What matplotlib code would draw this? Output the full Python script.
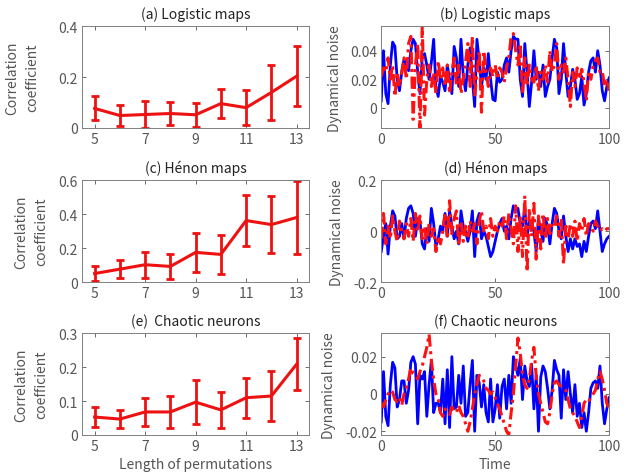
import matplotlib.pyplot as plt
from matplotlib.ticker import FormatStrFormatter

plt.rcParams['font.family'] = ['Noto Sans CJK JP', 'DejaVu Sans']
plt.rcParams['font.size'] = 9

# length of permutations
lengths = [5, 6, 7, 8, 9, 10, 11, 12, 13]

# correlation coefficients (mean and error) for each system
logistic_corr = [0.077, 0.049, 0.053, 0.057, 0.052, 0.096, 0.080, 0.140, 0.204]
logistic_err = [0.047, 0.040, 0.053, 0.047, 0.048, 0.058, 0.070, 0.107, 0.118]
henon_corr = [0.050, 0.076, 0.102, 0.092, 0.175, 0.163, 0.363, 0.339, 0.381]
henon_err = [0.046, 0.055, 0.078, 0.076, 0.115, 0.117, 0.150, 0.170, 0.215]
neuron_corr = [0.053, 0.047, 0.068, 0.068, 0.097, 0.074, 0.110, 0.115, 0.209]
neuron_err = [0.029, 0.027, 0.042, 0.046, 0.066, 0.052, 0.059, 0.075, 0.076]

# time axis for the noise plots
time = list(range(101))

# dynamical noise: true (blue) and estimated (red)
logistic_true = [
    0.005, 0.040, 0.010, 0.003, 0.030, 0.046, 0.043, 0.020, 0.012, 0.025,
    0.034, 0.030, 0.026, 0.040, 0.048, 0.045, 0.025, 0.010, 0.035, 0.038,
    0.030, 0.020, 0.032, 0.048, 0.015, 0.008, 0.022, 0.018, 0.012, 0.030,
    0.020, 0.010, 0.043, 0.035, 0.015, 0.048, 0.022, 0.012, 0.030, 0.042,
    0.020, 0.001, 0.048, 0.033, 0.015, 0.028, 0.020, 0.038, 0.020, 0.006,
    0.005, 0.025, 0.018, 0.020, 0.030, 0.035, 0.025, 0.040, 0.050, 0.048,
    0.048, 0.020, 0.008, 0.045, 0.025, 0.001, 0.018, 0.040, 0.020, 0.025,
    0.015, 0.030, 0.008, 0.015, 0.020, 0.035, 0.048, 0.042, 0.010, 0.020,
    0.045, 0.025, 0.008, 0.015, 0.027, 0.020, 0.006, 0.010, 0.022, 0.002,
    0.010, 0.025, 0.033, 0.035, 0.025, 0.040, 0.030, 0.012, 0.005, 0.015,
    0.021]
logistic_est = [
    0.022, 0.028, 0.025, 0.035, 0.020, 0.030, 0.008, 0.025, 0.015, 0.025,
    0.035, 0.020, 0.045, 0.050, -0.008, 0.030, 0.045, -0.014, 0.057, -0.005,
    0.020, 0.030, 0.015, 0.025, 0.010, 0.033, 0.020, 0.028, 0.015, 0.030,
    0.010, 0.025, 0.035, 0.015, 0.030, 0.010, 0.020, 0.032, 0.045, 0.015,
    0.050, 0.008, 0.025, 0.040, -0.003, 0.040, 0.025, 0.015, 0.028, 0.022,
    0.030, 0.020, 0.028, 0.025, 0.018, 0.028, 0.035, 0.050, 0.052, 0.040,
    0.030, 0.045, 0.010, 0.035, 0.015, 0.030, 0.020, 0.018, 0.030, 0.012,
    0.025, 0.020, 0.030, 0.018, 0.040, 0.025, 0.030, 0.045, 0.020, 0.030,
    0.025, 0.035, 0.020, 0.001, 0.025, 0.015, 0.028, 0.020, 0.027, 0.018,
    0.005, 0.026, 0.020, 0.030, 0.033, 0.035, 0.025, 0.026, 0.015, 0.020,
    0.012]
henon_true = [
    -0.08, -0.02, 0.03, -0.09, 0.02, 0.08, 0.06, -0.03, -0.02, 0.03,
    -0.03, 0.05, 0.09, 0.10, 0.07, -0.02, 0.05, 0.04, -0.05, -0.07,
    0.01, -0.04, 0.09, 0.03, -0.06, -0.03, 0.02, 0.00, 0.07, -0.02,
    0.08, 0.02, -0.03, 0.00, -0.05, 0.08, 0.02, 0.00, -0.04, 0.00,
    0.08, -0.10, 0.04, 0.07, -0.03, 0.00, -0.02, -0.06, -0.10, -0.08,
    -0.04, 0.00, 0.03, 0.05, 0.00, 0.02, -0.03, 0.05, 0.10, 0.08,
    0.09, 0.03, 0.02, 0.09, -0.02, 0.04, 0.03, 0.00, -0.08, 0.05,
    0.00, -0.04, 0.05, 0.02, -0.05, 0.03, 0.09, 0.07, 0.00, -0.03,
    0.06, -0.02, -0.08, -0.03, -0.07, -0.03, -0.06, -0.05, -0.10, -0.04,
    -0.08, -0.02, 0.03, 0.04, 0.01, 0.08, 0.00, -0.08, -0.05, -0.03,
    -0.02]
henon_est = [
    -0.03, 0.07, -0.05, 0.02, -0.03, 0.06, 0.00, -0.04, 0.04, 0.00,
    -0.03, 0.03, -0.02, 0.05, -0.04, 0.07, 0.00, 0.06, -0.03, 0.02,
    -0.05, 0.03, -0.02, 0.01, -0.08, -0.02, -0.05, 0.00, 0.07, -0.03,
    0.12, -0.01, 0.05, 0.08, -0.06, 0.04, -0.04, 0.02, -0.03, 0.04,
    0.00, 0.03, -0.05, 0.04, 0.08, 0.00, 0.02, -0.03, 0.05, -0.02,
    0.02, 0.00, 0.04, 0.02, 0.06, -0.03, 0.07, 0.01, -0.05, 0.10,
    -0.08, 0.06, -0.10, 0.14, -0.16, 0.09, -0.02, 0.11, -0.11, 0.06,
    -0.07, 0.07, -0.03, 0.05, -0.01, 0.03, 0.02, 0.06, -0.02, 0.05,
    -0.13, 0.02, -0.03, 0.03, -0.02, 0.04, -0.04, 0.03, 0.00, 0.05,
    -0.02, 0.03, 0.02, 0.00, 0.04, 0.02, 0.00, 0.01, 0.00, 0.01,
    0.01]
neuron_true = [
    -0.015, 0.012, -0.012, -0.017, 0.005, 0.017, 0.014, -0.007, -0.003, 0.007,
    0.007, -0.005, 0.002, 0.017, 0.020, 0.016, -0.016, 0.010, 0.008, 0.012,
    -0.012, 0.005, 0.018, -0.010, -0.005, -0.005, -0.010, 0.008, -0.016, 0.013,
    -0.018, 0.020, -0.008, -0.007, 0.010, -0.005, 0.015, -0.012, -0.010, 0.005,
    0.018, -0.020, 0.010, 0.006, -0.007, 0.005, -0.010, -0.015, 0.008, -0.015,
    -0.008, 0.005, -0.013, 0.004, 0.008, -0.008, 0.010, -0.005, 0.020, 0.015,
    0.010, 0.019, -0.003, 0.015, 0.007, 0.004, 0.016, -0.008, 0.010, -0.020,
    0.009, 0.015, 0.012, 0.003, -0.008, 0.002, 0.018, 0.013, 0.010, -0.013,
    0.013, -0.003, 0.012, 0.000, -0.010, 0.005, -0.012, -0.005, -0.018, -0.010,
    -0.020, -0.010, 0.003, 0.006, 0.007, 0.003, 0.015, -0.005, -0.016, -0.008,
    -0.002]
neuron_est = [
    -0.005, -0.007, -0.003, 0.000, 0.002, 0.001, -0.003, -0.004, -0.002, -0.006,
    0.000, 0.003, 0.008, 0.014, 0.011, 0.010, 0.008, 0.012, 0.015, 0.020,
    0.025, 0.032, 0.018, 0.008, 0.000, -0.003, -0.010, -0.012, -0.008, -0.010,
    -0.011, -0.007, -0.009, -0.010, -0.006, -0.010, -0.012, -0.016, -0.020, -0.015,
    -0.008, 0.000, 0.005, 0.010, 0.009, 0.007, 0.003, 0.002, 0.000, 0.001,
    -0.002, -0.005, -0.008, -0.012, -0.016, -0.020, -0.022, -0.010, 0.000, 0.015,
    0.030, 0.022, 0.010, 0.005, 0.003, 0.008, 0.018, 0.025, 0.010, 0.000,
    -0.005, -0.010, -0.015, -0.016, -0.010, 0.000, 0.006, 0.007, 0.005, 0.004,
    0.003, 0.002, -0.003, -0.008, -0.010, -0.012, -0.015, -0.018, -0.012, -0.005,
    -0.003, -0.004, -0.002, 0.000, 0.002, 0.008, 0.012, 0.008, 0.002, -0.005,
    -0.008]

grey = '#555555'
fig = plt.figure(figsize=(6.26, 4.77), dpi=100)

lefts = [0.131, 0.609]
bottoms = [0.7296, 0.4067, 0.086]
w, h = 0.363, 0.213


def style(ax):
    ax.tick_params(direction='in', top=True, right=True, colors=grey,
                   length=3, width=0.6, labelsize=10, pad=3)
    for s in ax.spines.values():
        s.set_color('#808080')
        s.set_linewidth(0.7)


# left column: correlation vs length of permutations
left_data = [
    ('(a) Logistic maps', logistic_corr, logistic_err, 0.4, [0, 0.2, 0.4], -0.19),
    ('(c) Hénon maps', henon_corr, henon_err, 0.6, [0, 0.2, 0.4, 0.6], -0.15),
    ('(e)  Chaotic neurons', neuron_corr, neuron_err, 0.3, [0, 0.1, 0.2, 0.3], -0.15),
]
for i, (title, m, e, top, yt, lx) in enumerate(left_data):
    ax = fig.add_axes([lefts[0], bottoms[i], w, h])
    ax.errorbar(lengths, m, yerr=e, color='#ee1111', lw=2.2, capsize=3,
                capthick=2, elinewidth=2)
    ax.set_xlim(4.5, 13.5)
    ax.set_ylim(0, top)
    ax.set_xticks([5, 7, 9, 11, 13])
    ax.set_yticks(yt)
    ax.yaxis.set_major_formatter(FormatStrFormatter('%g'))
    ax.set_title(title, fontsize=10, color='#222222', pad=6)
    ax.set_ylabel('Correlation\ncoefficient', color=grey, fontsize=10,
                  linespacing=1.5)
    ax.yaxis.set_label_coords(lx, 0.5)
    style(ax)
    if i == 2:
        ax.set_xlabel('Length of permutations', color=grey, fontsize=10,
                      labelpad=3)

# right column: dynamical noise time series
right_data = [
    ('(b) Logistic maps', logistic_true, logistic_est, (-0.014, 0.057),
     [0, 0.02, 0.04], -0.171),
    ('(d) Hénon maps', henon_true, henon_est, (-0.2, 0.2),
     [-0.2, 0, 0.2], -0.162),
    ('(f) Chaotic neurons', neuron_true, neuron_est, (-0.022, 0.0325),
     [-0.02, 0, 0.02], -0.20),
]
for i, (title, tr, es, yl, yt, lx) in enumerate(right_data):
    ax = fig.add_axes([lefts[1], bottoms[i], w + 0.001, h])
    ax.plot(time, tr, color='#0000ff', lw=2)
    ax.plot(time, es, color='#ff1111', lw=2.2, linestyle=(0, (4, 1.5, 1, 1.5)))
    ax.set_xlim(0, 100)
    ax.set_ylim(*yl)
    ax.set_xticks([0, 50, 100])
    ax.set_yticks(yt)
    ax.yaxis.set_major_formatter(FormatStrFormatter('%g'))
    ax.set_title(title, fontsize=10, color='#222222', pad=6)
    ax.set_ylabel('Dynamical noise', color=grey, fontsize=10)
    ax.yaxis.set_label_coords(lx, 0.5)
    style(ax)
    if i == 2:
        ax.set_xlabel('Time', color=grey, fontsize=10, labelpad=3)

fig.savefig('out.png', dpi=100)
